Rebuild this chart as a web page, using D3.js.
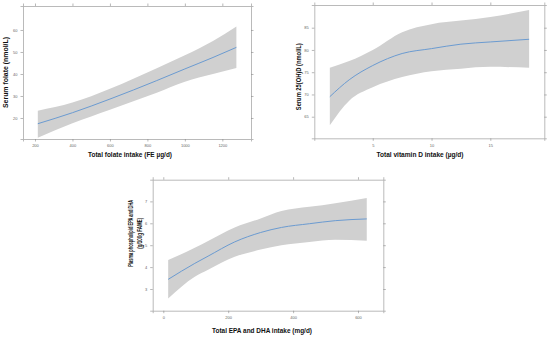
<!DOCTYPE html>
<html>
<head>
<meta charset="utf-8">
<script src="https://cdn.jsdelivr.net/npm/d3@7"></script>
<style>
	body { margin: 0; background: #fff; }
	svg { display: block; }
</style>
</head>
<body>
<svg id="chart" width="550" height="337"></svg>
<script>
// values
const folateX = [215, 400, 600, 850, 1000, 1150, 1275];
const folateFit = [17.4, 22.4, 28.6, 37.0, 42.3, 47.5, 52.1];
const folateLow = [11.0, 17.6, 23.8, 31.5, 36.5, 40.0, 42.7];
const folateHigh = [23.3, 27.0, 33.3, 42.6, 48.5, 55.0, 61.6];
const folateXTicks = [200, 400, 600, 800, 1000, 1200];
const folateYTicks = [20, 30, 40, 50, 60];

const vitdX = [1.35, 3, 5, 7.5, 10, 12.5, 15, 18.3];
const vitdFit = [69.5, 73.3, 76.5, 79.2, 80.3, 81.3, 81.8, 82.4];
const vitdLow = [63.1, 68.6, 71.6, 73.9, 75.2, 75.8, 76.2, 76.0];
const vitdHigh = [76.0, 77.5, 80.0, 84.0, 85.8, 86.6, 87.4, 89.0];
const vitdXTicks = [5, 10, 15];
const vitdYTicks = [65, 70, 75, 80, 85];

const epaX = [15, 97, 138, 220, 300, 364, 450, 530, 627];
const epaFit = [3.44, 4.17, 4.50, 5.15, 5.58, 5.81, 5.98, 6.12, 6.20];
const epaLow = [2.57, 3.56, 3.88, 4.47, 4.80, 5.00, 5.15, 5.25, 5.20];
const epaHigh = [4.32, 4.88, 5.19, 5.81, 6.22, 6.56, 6.75, 6.92, 7.16];
const epaXTicks = [0, 200, 400, 600];
const epaYTicks = [3, 4, 5, 6, 7];

const svg = d3.select('#chart');
const FONT = '"Liberation Sans", Arial, sans-serif';
const fmt = d3.format('d');

function drawPanel(p) {
	let x = d3.scaleLinear().domain(p.xDomain).range([p.box.x0, p.box.x1]);
	let y = d3.scaleLinear().domain(p.yDomain).range([p.box.y1, p.box.y0]);
	let g = svg.append('g');

	let rows = p.xs.map((v, i) => ({x: v, fit: p.fit[i], lo: p.lo[i], hi: p.hi[i]}));

	let area = d3.area()
		.x(d => x(d.x))
		.y0(d => y(d.lo))
		.y1(d => y(d.hi))
		.curve(d3.curveMonotoneX);
	g.append('path')
		.datum(rows)
		.attr('d', area)
		.attr('fill', '#d0d0d0');

	let line = d3.line()
		.x(d => x(d.x))
		.y(d => y(d.fit))
		.curve(d3.curveMonotoneX);
	g.append('path')
		.datum(rows)
		.attr('d', line)
		.attr('fill', 'none')
		.attr('stroke', '#6b9bd0')
		.attr('stroke-width', 1);

	// axes on all four sides, labels only bottom and left
	let bottom = g.append('g').attr('transform', `translate(0,${p.box.y1})`)
		.call(d3.axisBottom(x).tickValues(p.xTicks).tickFormat(fmt).tickSize(2.5).tickPadding(3));
	let top = g.append('g').attr('transform', `translate(0,${p.box.y0})`)
		.call(d3.axisTop(x).tickValues(p.xTicks).tickSize(2.5).tickFormat(''));
	let left = g.append('g').attr('transform', `translate(${p.box.x0},0)`)
		.call(d3.axisLeft(y).tickValues(p.yTicks).tickFormat(fmt).tickSize(2.5).tickPadding(3));
	let right = g.append('g').attr('transform', `translate(${p.box.x1},0)`)
		.call(d3.axisRight(y).tickValues(p.yTicks).tickSize(2.5).tickFormat(''));

	[bottom, top, left, right].forEach(a => {
		a.select('.domain').attr('stroke', '#a8a8a8').attr('stroke-width', 0.8);
		a.selectAll('.tick line').attr('stroke', '#888').attr('stroke-width', 0.6);
		a.selectAll('.tick text')
			.attr('fill', '#666')
			.style('font-size', '4px')
			.style('font-family', FONT);
	});

	// axis titles
	g.append('text')
		.text(p.xTitle)
		.attr('x', p.xTitlePos[0])
		.attr('y', p.xTitlePos[1])
		.attr('text-anchor', 'middle')
		.attr('textLength', p.xTitleLen)
		.attr('lengthAdjust', 'spacingAndGlyphs')
		.style('font-family', FONT)
		.style('font-weight', 'bold')
		.style('font-size', '6.6px')
		.attr('fill', '#111');

	p.yTitle.forEach((t, i) => {
		let pos = p.yTitlePos[i];
		let txt = g.append('text')
			.text(t.text)
			.attr('transform', `translate(${pos[0]},${pos[1]}) rotate(-90)`)
			.attr('text-anchor', 'middle')
			.style('font-family', FONT)
			.style('font-weight', 'bold')
			.style('font-size', '6.6px')
			.attr('fill', '#111');
		if (t.len) {
			txt.attr('textLength', t.len).attr('lengthAdjust', 'spacingAndGlyphs');
		}
	});
}

drawPanel({
	box: {x0: 23, x1: 251, y0: 6, y1: 139},
	xDomain: [136, 1353], yDomain: [10.45, 70.9],
	xs: folateX, fit: folateFit, lo: folateLow, hi: folateHigh,
	xTicks: folateXTicks, yTicks: folateYTicks,
	xTitle: 'Total folate intake (FE µg/d)', xTitlePos: [130, 157], xTitleLen: 84,
	yTitle: [{text: 'Serum folate (nmol/L)', len: 71}], yTitlePos: [[8, 72.5]]
});

drawPanel({
	box: {x0: 314.3, x1: 544.3, y0: 5, y1: 138.3},
	xDomain: [0.03, 19.59], yDomain: [60.15, 90.1],
	xs: vitdX, fit: vitdFit, lo: vitdLow, hi: vitdHigh,
	xTicks: vitdXTicks, yTicks: vitdYTicks,
	xTitle: 'Total vitamin D intake (µg/d)', xTitlePos: [420, 157], xTitleLen: 87,
	yTitle: [{text: 'Serum 25(OH)D  (nmol/L)', len: 67}], yTitlePos: [[300.5, 76.7]]
});

drawPanel({
	box: {x0: 152.7, x1: 383.3, y0: 179.7, y1: 310.7},
	xDomain: [-32.7, 678], yDomain: [2.01, 7.99],
	xs: epaX, fit: epaFit, lo: epaLow, hi: epaHigh,
	xTicks: epaXTicks, yTicks: epaYTicks,
	xTitle: 'Total EPA and DHA intake (mg/d)', xTitlePos: [262, 332.5], xTitleLen: 100,
	yTitle: [{text: 'Plasma phospholipid EPA and DHA', len: 67}, {text: '(g/100g FAME)', len: 31}],
	yTitlePos: [[133, 233.3], [141.6, 233.3]]
});
</script>
</body>
</html>
